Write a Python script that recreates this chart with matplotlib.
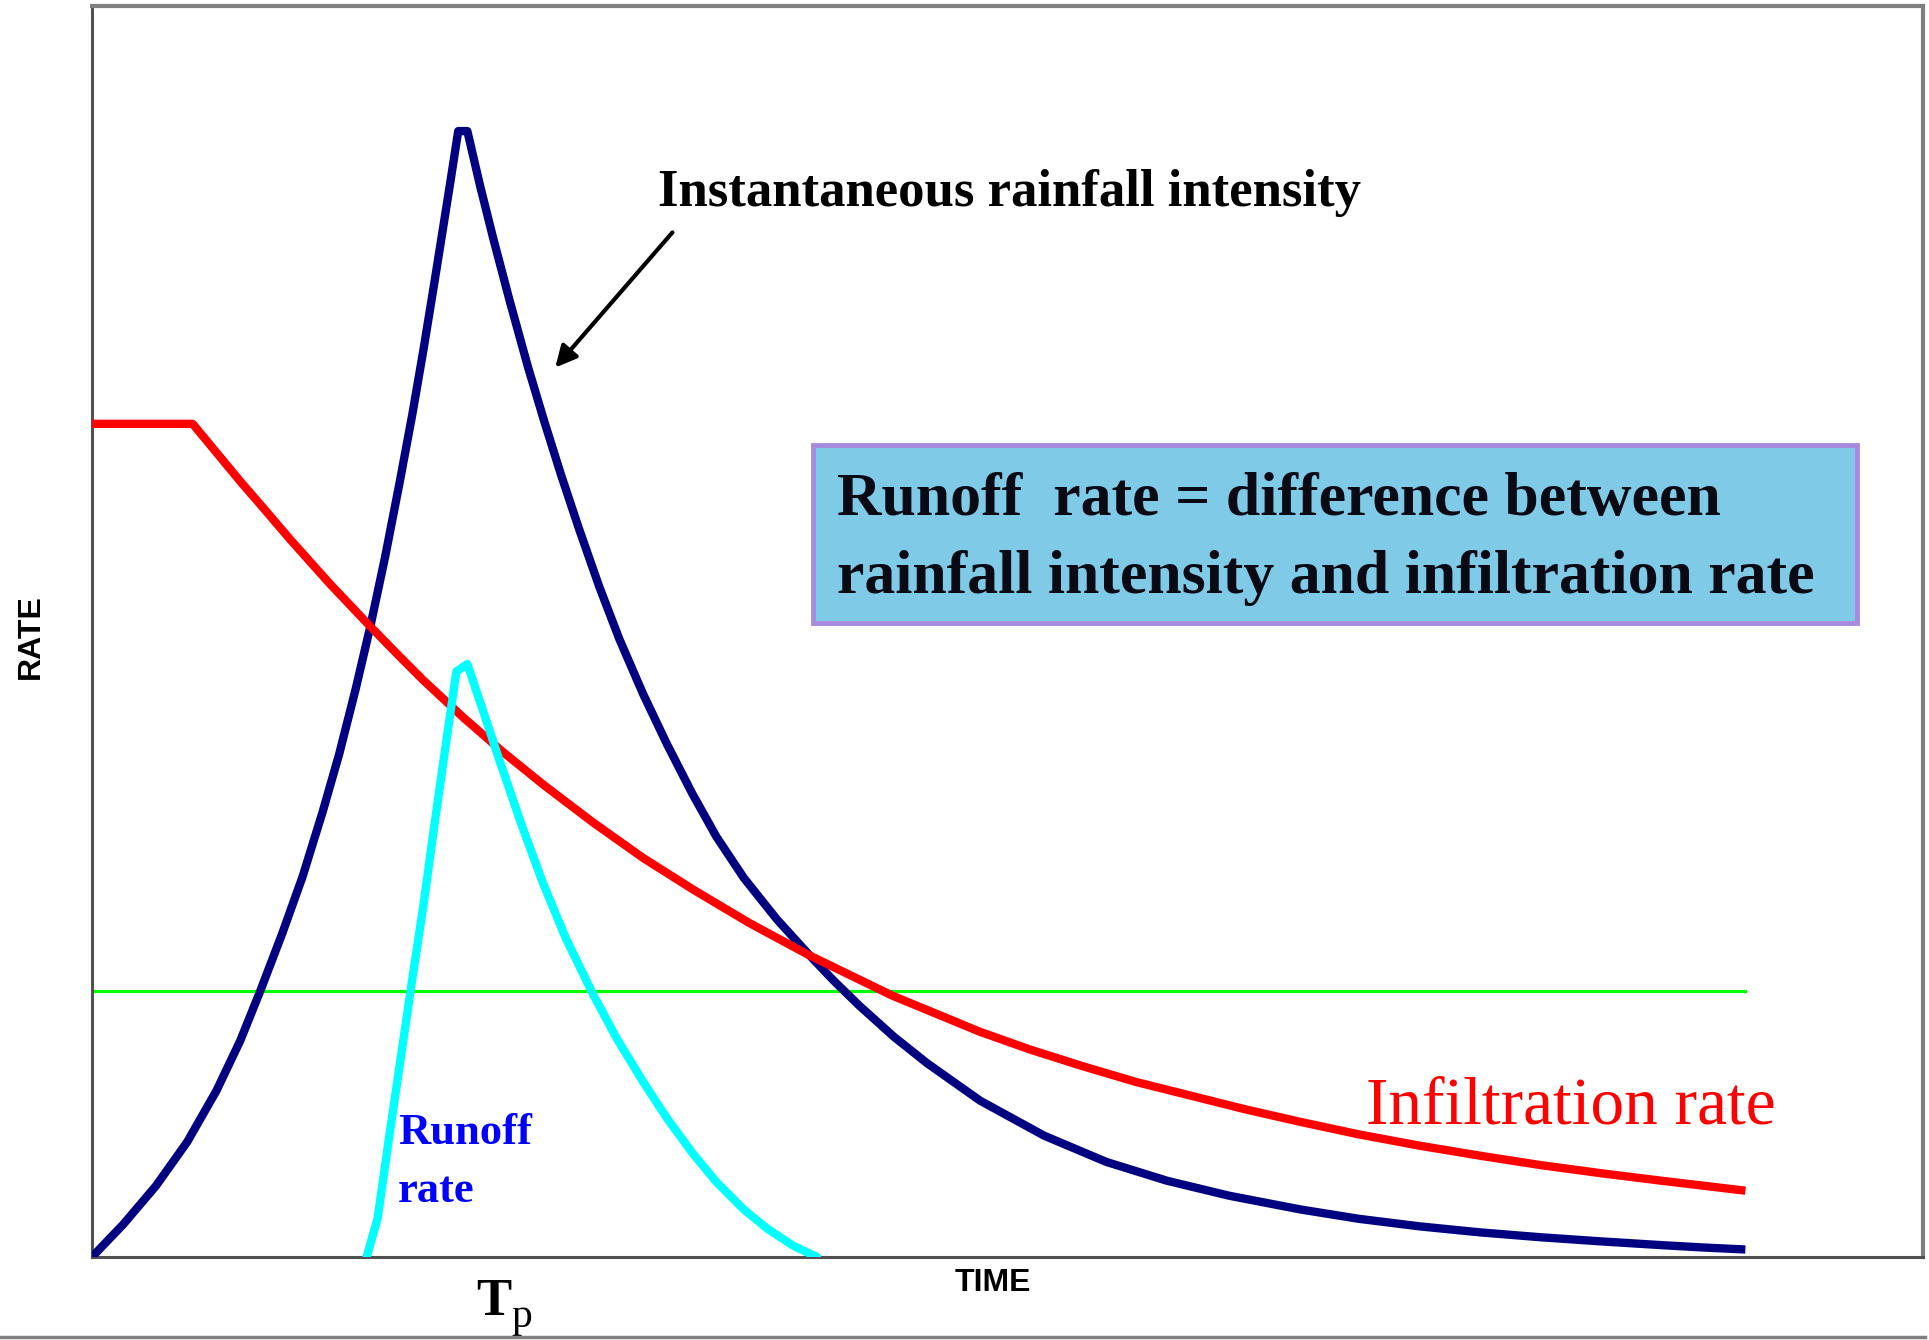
import matplotlib
matplotlib.use('Agg')
import matplotlib.pyplot as plt
from matplotlib.patches import Rectangle
from matplotlib.lines import Line2D

# ---- data (arbitrary time / rate units) ----
rain_t = [0.0, 1.7, 3.5, 5.2, 6.8, 8.1, 9.2, 10.4, 11.5, 12.6, 13.5, 14.4,
          15.2, 16.0, 16.8, 17.5, 18.1, 18.7, 19.2, 19.6, 20.0, 20.5,
          21.2, 21.9, 22.8, 23.8, 24.7, 25.6, 26.6, 27.7, 28.8, 30.1,
          31.4, 32.8, 34.1, 35.6, 37.4, 39.2, 40.5, 41.9, 43.8, 45.6,
          48.5, 52.0, 55.4, 58.7, 62.1, 66.0, 69.2, 72.5, 75.8, 79.1, 82.4,
          85.7, 88.0, 90.3]
rain_v = [0.0, 2.6, 5.7, 9.2, 13.3, 17.3, 21.3, 25.9, 30.4, 35.6, 40.2, 45.4,
          50.4, 55.9, 61.9, 67.4, 72.5, 77.9, 82.5, 86.2, 90.0, 90.0,
          85.6, 81.5, 76.5, 71.2, 66.8, 62.6, 58.2, 53.6, 49.4, 45.0,
          41.0, 37.0, 33.6, 30.3, 27.0, 24.1, 22.1, 20.1, 17.6, 15.5,
          12.5, 9.7, 7.6, 6.1, 4.9, 3.8, 3.05, 2.45, 1.97, 1.58, 1.25,
          0.95, 0.76, 0.6]

infil_t = [0.0, 5.5, 6.8, 8.1, 9.4, 10.8, 13.0, 15.2, 16.6, 18.1, 20.3, 22.5,
           24.7, 27.4, 30.1, 32.8, 35.9, 39.2, 43.7, 48.5, 51.2, 54.0, 57.0,
           60.0, 63.0, 66.0, 69.2, 72.5, 75.8, 79.1, 82.4, 85.7, 88.0, 90.3]
infil_v = [66.6, 66.6, 64.3, 62.0, 59.8, 57.4, 53.8, 50.4, 48.3, 46.1, 43.1, 40.3,
           37.7, 34.7, 31.9, 29.4, 26.7, 24.1, 20.9, 18.0, 16.6, 15.3, 14.0,
           12.9, 11.8, 10.8, 9.8, 8.9, 8.1, 7.35, 6.7, 6.1, 5.7, 5.3]

runoff_t = [15.0, 15.6, 16.2, 16.8, 17.45, 18.1, 18.65, 19.2, 19.9, 20.5,
            21.46, 22.3, 23.4, 24.6, 25.9, 27.4, 28.65, 30.1, 31.4, 32.8,
            34.1, 35.6, 36.85, 38.3, 39.6]
runoff_v = [0.0, 3.1, 9.3, 15.3, 21.8, 28.1, 34.0, 39.7, 46.8, 47.4,
            43.2, 39.5, 34.8, 30.0, 25.4, 20.9, 17.5, 14.0, 11.1, 8.3,
            6.0, 3.8, 2.3, 0.9, 0.0]

level_t = [0.0, 90.3]
level_v = [21.3, 21.3]

# ---- figure ----
fig = plt.figure(figsize=(19.29, 13.40), dpi=100)
ax = fig.add_axes([0.04769, 0.06194, 0.9492, 0.93358])
ax.set_xlim(0, 100)
ax.set_ylim(0, 100)
ax.set_xticks([])
ax.set_yticks([])

for side in ('top', 'right'):
    ax.spines[side].set_color('#808080')
    ax.spines[side].set_linewidth(3.0)
for side in ('left', 'bottom'):
    ax.spines[side].set_color('#505050')
    ax.spines[side].set_linewidth(2.2)

ax.plot(level_t, level_v, color='#00FF00', lw=2.3, zorder=2)
ax.plot(rain_t, rain_v, color='#000080', lw=6.0, solid_joinstyle='round',
        solid_capstyle='butt', zorder=3)
ax.plot(infil_t, infil_v, color='#FF0000', lw=6.0, solid_joinstyle='round',
        solid_capstyle='butt', zorder=4)
ax.plot(runoff_t, runoff_v, color='#00FFFF', lw=6.0, solid_joinstyle='round',
        solid_capstyle='round', zorder=5)

serif = 'Liberation Serif'
sans = 'Liberation Sans'

ax.text(30.9, 84.0, 'Instantaneous rainfall intensity', family=serif,
        weight='bold', size=38, va='baseline', ha='left', color='black')
ax.annotate('', xy=(25.3, 71.1), xytext=(31.7, 81.9),
            arrowprops=dict(arrowstyle='-|>', color='black', lw=3,
                            mutation_scale=32, shrinkA=0, shrinkB=0))

ax.add_patch(Rectangle((39.4, 50.7), 57.0, 14.2, facecolor='#7FCAE6',
                       edgecolor='#A98BDE', lw=3.5, zorder=6))
ax.text(40.7, 59.3, 'Runoff  rate = difference between', family=serif,
        weight='bold', size=44.5, va='baseline', ha='left', color='#0a0a14', zorder=7)
ax.text(40.7, 53.1, 'rainfall intensity and infiltration rate', family=serif,
        weight='bold', size=44.5, va='baseline', ha='left', color='#0a0a14', zorder=7)

ax.text(69.6, 10.7, 'Infiltration rate', family=serif, size=48.5,
        va='baseline', ha='left', color='#FF0000', zorder=7)

ax.text(16.7, 9.0, 'Runoff', family=serif, weight='bold', size=32,
        va='baseline', ha='left', color='#0000FF', zorder=7)
ax.text(16.7, 4.4, 'rate', family=serif, weight='bold', size=32,
        va='baseline', ha='left', color='#0000FF', zorder=7)

ax.text(21.0, -4.64, 'T', family=serif, weight='bold', size=38,
        va='baseline', ha='left', color='black', clip_on=False)
ax.text(22.9, -5.6, 'p', family=serif, size=30,
        va='baseline', ha='left', color='black', clip_on=False)

ax.text(49.2, -0.9, 'TIME', family=sans, weight='bold', size=23,
        va='top', ha='center', color='black', clip_on=False)
fig.text(0.016, 0.525, 'RATE', family=sans, weight='bold', size=23,
         rotation=90, va='center', ha='center', color='black')

fig.add_artist(Line2D([0, 0.998], [0.0022, 0.0022], color='#808080', lw=2.5,
                      transform=fig.transFigure))

fig.savefig('out.png', dpi=100)
